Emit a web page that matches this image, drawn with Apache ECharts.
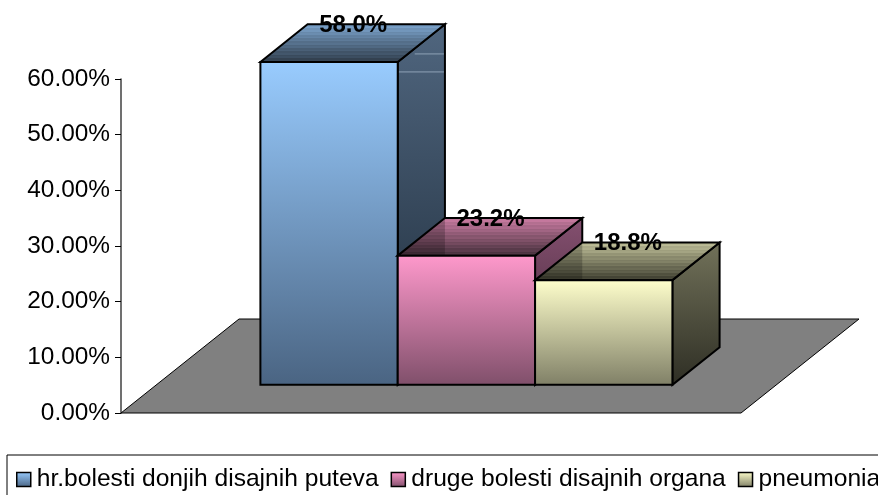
<!DOCTYPE html>
<html><head><meta charset="utf-8">
<style>html,body{margin:0;padding:0;background:#fff;overflow:hidden}#c{width:878px;height:495px}</style>
<script src="https://cdn.jsdelivr.net/npm/echarts@6/dist/echarts.min.js"></script>
</head><body><div id="c"></div>
<script>
const seriesNames = ['hr.bolesti donjih disajnih puteva', 'druge bolesti disajnih organa', 'pneumonia'];
const seriesValues = [58.0, 23.2, 18.8];
const categories = ['2005'];
const yTicks = [0, 10, 20, 30, 40, 50, 60];
const palette = [
  {front:['#99CCFF','#4A6482'], side:['#50667F','#1E2C3A'], topBack:'#7FA8D2', topFront:'#2F3C4A'},
  {front:['#FF99CC','#7F4F6A'], side:['#855070','#3A2230'], topBack:'#CF7FA6', topFront:'#46303C'},
  {front:['#FFFFCC','#7F7F66'], side:['#72725A','#2E2E24'], topBack:'#C6C69E', topFront:'#3E3E30'}
];
const FONT='"Liberation Sans", Arial, sans-serif';
const vGrad = (a,b)=>new echarts.graphic.LinearGradient(0,0,0,1,[{offset:0,color:a},{offset:1,color:b}]);
function striped(p){
  const n=12, stops=[];
  for(let i=0;i<n;i++){
    const t0=i/n,t1=(i+1)/n,tm=(t0+t1)/2;
    const a=echarts.color.lerp(t0,[p.topBack,p.topFront]);
    const b=echarts.color.lerp(Math.min(1,t0+0.12),[p.topBack,p.topFront]);
    stops.push({offset:t0,color:a},{offset:tm,color:a},{offset:tm,color:b},{offset:t1,color:b});
  }
  return new echarts.graphic.LinearGradient(0,0,0,1,stops);
}
const DX=118, DY=94, DEPTH=0.4, LIFT=0.3, GROUP=412/620;
function geom(api){
  const band=api.size([1,0])[0];
  const c=api.coord([0,0]);
  return {band,cx:c[0],y0:c[1]};
}
function renderFloor(p,api){
  const g=geom(api), l=g.cx-g.band/2, r=g.cx+g.band/2, y=g.y0;
  return {type:'polygon',silent:true,shape:{points:[[l,y],[r,y],[r+DX,y-DY],[l+DX,y-DY]]},
    style:{fill:'#808080',stroke:'#000',lineWidth:1}};
}
function makeBar(idx){
  return function(p,api){
    const g=geom(api), v=api.value(1), pal=palette[idx];
    const w=g.band*GROUP/seriesValues.length;
    const offX=DX*LIFT, offY=DY*LIFT;
    const x0=g.cx+offX+(idx-seriesValues.length/2)*w, x1=x0+w;
    const yb=g.y0-offY, yt=api.coord([0,v])[1]-offY;
    const dx=DX*DEPTH, dy=DY*DEPTH;
    const s={stroke:'#000',lineWidth:2,lineJoin:'miter'};
    const kids=[
      {type:'polygon',shape:{points:[[x1,yt],[x1+dx,yt-dy],[x1+dx,yb-dy],[x1,yb]]},style:Object.assign({fill:vGrad(pal.side[0],pal.side[1])},s)},
      {type:'polygon',shape:{points:[[x0,yt],[x0+dx,yt-dy],[x1+dx,yt-dy],[x1,yt]]},style:Object.assign({fill:striped(pal)},s)}
    ];
    if(idx>0){
      kids.push({type:'polygon',shape:{points:[[x0+1,yt-1],[x0+dx,yt-dy+1],[x0+dx,yt-1]]},style:{fill:'rgba(0,0,0,0.22)'}});
    } else {
      kids.push({type:'line',shape:{x1:x1+1,y1:yt+10,x2:x1+dx-1,y2:yt+10},style:{stroke:'#8fa2b6',lineWidth:1}});
      kids.push({type:'line',shape:{x1:x1+dx*0.36,y1:yt-8,x2:x1+dx-1,y2:yt-8},style:{stroke:'#8fa2b6',lineWidth:1}});
    }
    kids.push(
      {type:'rect',shape:{x:x0,y:yt,width:w,height:yb-yt},style:Object.assign({fill:vGrad(pal.front[0],pal.front[1])},s)},
      {type:'text',style:{text:api.value(1).toFixed(1)+'%',x:(x0+x1+dx)/2+0.5,y:yt-dy+1,align:'center',verticalAlign:'middle',
        font:'bold 24px '+FONT,fill:'#000'},z2:100}
    );
    return {type:'group',children:kids};
  };
}
const chart=echarts.init(document.getElementById('c'),null,{renderer:'canvas'});
const legendData=seriesNames.map((n,i)=>({name:n,icon:'rect',
  itemStyle:{color:vGrad(palette[i].front[0],palette[i].front[1]),borderColor:'#000',borderWidth:1.5}}));
chart.setOption({
  animation:false,
  backgroundColor:'#fff',
  grid:{left:121,top:79,width:620,height:334,containLabel:false},
  xAxis:{type:'category',data:categories,show:false},
  yAxis:{type:'value',min:yTicks[0],max:yTicks[yTicks.length-1],interval:yTicks[1]-yTicks[0],
    axisLine:{show:true,lineStyle:{color:'#404040',width:1.5}},
    axisTick:{show:true,length:6,lineStyle:{color:'#000'}},
    splitLine:{show:false},
    axisLabel:{margin:11,color:'#000',fontFamily:FONT,fontSize:24.4,formatter:v=>v.toFixed(2)+'%'}},
  legend:{data:legendData,left:7,top:455,width:1200,orient:'horizontal',padding:[12,60,12,9],itemGap:12,itemWidth:14,itemHeight:14,
    borderColor:'#000',borderWidth:1,selectedMode:false,
    textStyle:{color:'#000',fontFamily:FONT,fontSize:24.6,padding:[0,0,0,1]}},
  series:[
    {type:'custom',name:'floor',renderItem:renderFloor,data:[[0,0]],z:1,silent:true},
    ...seriesNames.map((n,i)=>({type:'custom',name:n,renderItem:makeBar(i),data:[[0,seriesValues[i]]],z:2+i,
      encode:{x:0,y:1},silent:true,clip:false}))
  ]
});
</script></body></html>
